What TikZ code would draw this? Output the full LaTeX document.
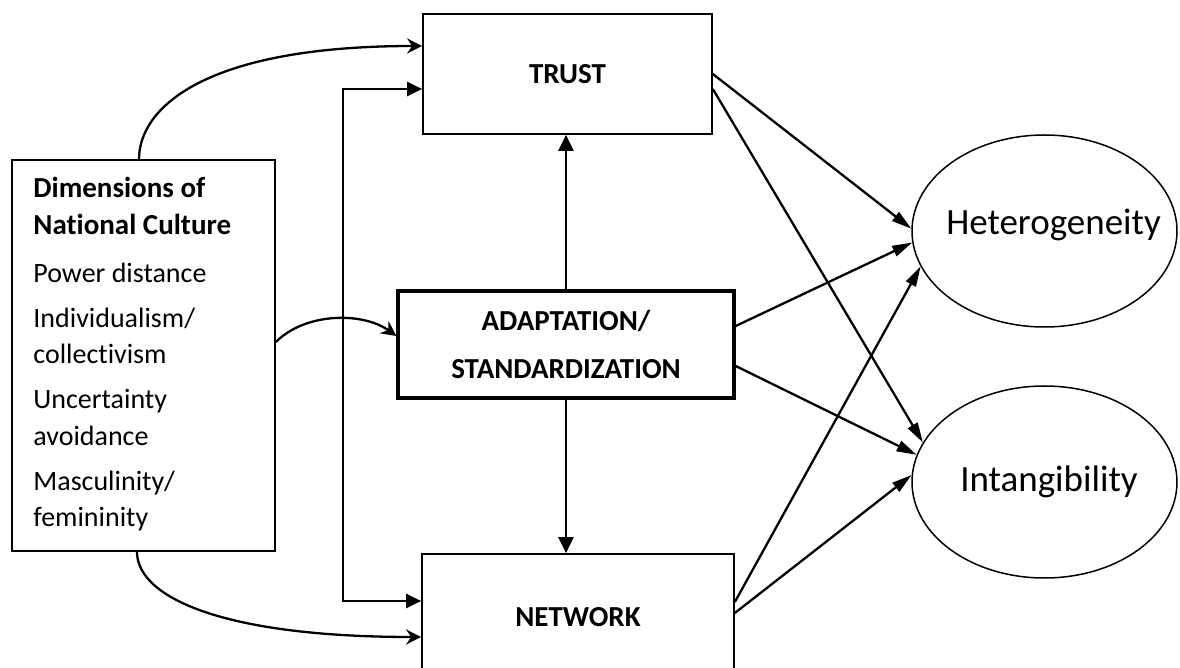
\documentclass[tikz,border=0pt]{standalone}
\usepackage{fontspec}
\setmainfont{Carlito}[Ligatures=NoCommon]
\usetikzlibrary{shapes.geometric,arrows.meta,calc}
\begin{document}
\begin{tikzpicture}[x=0.5pt,y=-0.5pt,
  box/.style={draw, rectangle, line width=0.85pt, inner sep=0pt, font=\bfseries\fontsize{14.5}{24}\selectfont, align=center},
  oval/.style={draw, ellipse, line width=0.75pt, inner sep=0pt, minimum width=132.5pt, minimum height=96pt},
  conn/.style={line width=1.15pt},
  tri/.style={-{Triangle[length=8pt,width=7.5pt]}},
  both/.style={{Triangle[length=7.5pt,width=7pt]}-{Triangle[length=7.5pt,width=7pt]}},
  slim/.style={-{Triangle[length=10pt,width=5.5pt]}},
  curv/.style={-{Stealth[length=7.5pt,width=7.5pt,inset=2.5pt]}},
  bigtext/.style={inner sep=0pt, anchor=base, font=\fontsize{18.5}{22}\selectfont}
]
\useasboundingbox (0,0) rectangle (1180,668);
\clip (0,0) rectangle (1180,668);

% boxes
\node[box, minimum width=144.5pt, minimum height=60pt] (trust) at (567.5,74) {TRUST};
\node[box, line width=1.7pt, minimum width=168pt, minimum height=53.5pt] (adapt) at (566,344.5) {ADAPTATION/\\STANDARDIZATION};
\node[box, minimum width=156pt, minimum height=63pt] (network) at (578,617) {NETWORK};
\node[box, minimum width=131.5pt, minimum height=195.5pt] (culture) at (143.5,355.5) {};
\node[inner sep=0pt, anchor=base west] (culturetext) at (33,198) {\parbox[t]{125pt}{\raggedright\fontsize{14}{18.25}\selectfont
  {\bfseries\fontsize{14.5}{18.25}\selectfont Dimensions of\\National Culture}\\[5.75pt]
  Power distance\\[4.25pt]
  Individualism/\\collectivism\\[4.25pt]
  Uncertainty\\avoidance\\[4.25pt]
  Masculinity/\\femininity}};

% ellipses
\node[oval] (het) at (1044.5,231) {};
\node[bigtext] (hettext) at (1053.5,235) {Heterogeneity};
\node[oval] (int) at (1044.5,482) {};
\node[bigtext] (inttext) at (1049,492) {Intangibility};

% curved connectors from culture
\draw[conn,curv] ($(culture.north)+(-4.5,0)$) .. controls +(0,-50) and +(-220,0) .. ($(trust.west)+(0,-28)$);
\draw[conn,curv] ($(culture.east)+(0,-13.5)$) .. controls +(30,-30) and +(-33,-24) .. ($(adapt.west)+(0,-8.5)$);
\draw[conn,curv] ($(culture.south)+(-6.5,0)$) .. controls +(0,45) and +(-200,0) .. ($(network.west)+(0,20)$);

% elbow connector
\coordinate (ex) at (343,0);
\coordinate (tin) at ($(trust.west)+(0,15)$);
\coordinate (nin) at ($(network.west)+(0,-16)$);
\draw[conn,both] (tin) -- (tin -| ex) -- (ex |- nin) -- (nin);

% vertical connectors
\draw[conn,tri] (adapt.north) -- (adapt.north |- trust.south);
\draw[conn,tri] (adapt.south) -- (adapt.south |- network.north);

% to ellipses
\draw[conn,slim] (trust.east) -- (het.179);
\draw[conn,slim] ($(trust.east)+(0,15)$) -- (int.162);
\draw[conn,slim] ($(adapt.east)+(0,-18.5)$) -- (het.185);
\draw[conn,slim] ($(adapt.east)+(0,21.5)$) -- (int.168);
\draw[conn,slim] ($(network.east)+(0,-15)$) -- (het.196);
\draw[conn,slim] ($(network.east)+(0,-4)$) -- (int.177);
\end{tikzpicture}
\end{document}
